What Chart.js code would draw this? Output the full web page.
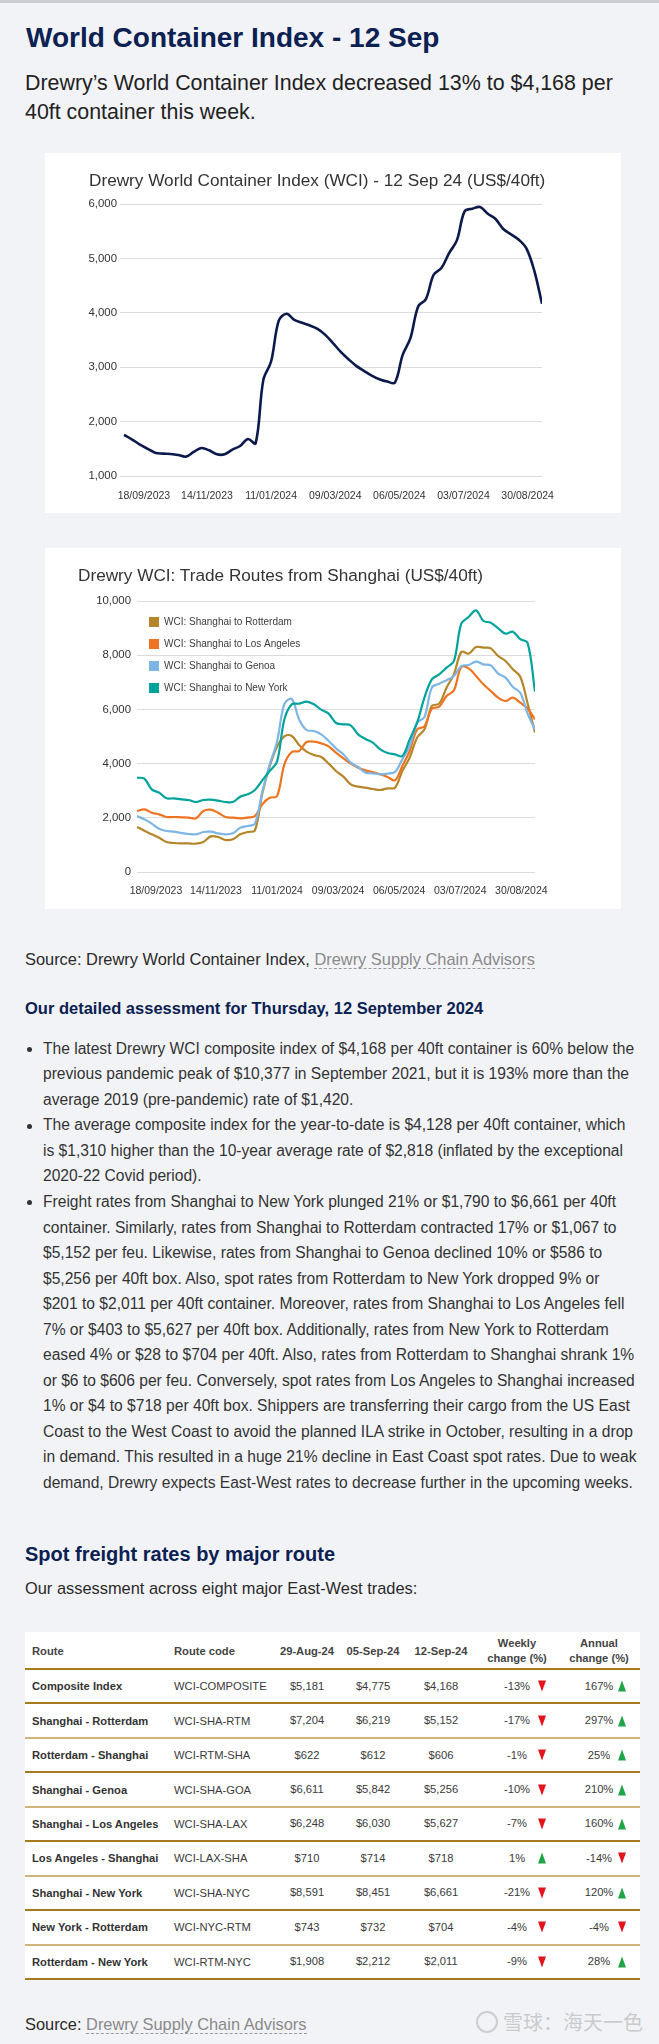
<!DOCTYPE html>
<html>
<head>
<meta charset="utf-8">
<title>World Container Index - 12 Sep</title>
<script src="https://cdn.jsdelivr.net/npm/chart.js@4.4.1/dist/chart.umd.min.js"></script>
<style>
  html, body { margin: 0; padding: 0; }
  body { width: 659px; height: 2044px; position: relative; overflow: hidden; background: #f2f3f7;
         font-family: "Liberation Sans", Arial, sans-serif; color: #333; }
  .t { position: absolute; white-space: nowrap; margin: 0; }
  #topbar { position: absolute; left: 0; top: 0; width: 659px; height: 3px; background: #cdced3; }
  #title { left: 26px; top: 21px; font-size: 28px; line-height: 34px; font-weight: bold; color: #0b2152; }
  #lead { left: 25px; top: 68.8px; font-size: 21.4px; line-height: 28.7px; color: #222; }
  .box { position: absolute; left: 45px; width: 576px; background: #fff; }
  #box1 { top: 153px; height: 360px; }
  #box2 { top: 548px; height: 361px; }
  .box canvas { position: absolute; left: 0; top: 0; }
  .ctitle { position: absolute; top: 17px; font-size: 17.2px; line-height: 20px; color: #333; white-space: nowrap; }
  .src { font-size: 16.4px; line-height: 20px; color: #2a2a2a; }
  .src a { color: #8a8a8a; text-decoration: none; border-bottom: 1px dashed #9a9a9a; }
  #src1 { left: 25px; top: 948.6px; }
  #assess { left: 25px; top: 997.6px; font-size: 16.5px; line-height: 20px; font-weight: bold; color: #0b2152; }
  #bullets { position: absolute; left: 43px; top: 1035.8px; margin: 0; padding: 0; list-style: none;
             font-size: 15.6px; line-height: 25.53px; color: #333; white-space: nowrap; }
  #bullets li { position: relative; }
  #bullets li::before { content: ""; position: absolute; left: -16.5px; top: 11.4px; width: 5px; height: 5px;
                        border-radius: 50%; background: #333; }
  #spot { left: 25px; top: 1541.8px; font-size: 20px; line-height: 24px; font-weight: bold; color: #0b2152; }
  #across { left: 25px; top: 1578.3px; }
  #rates { position: absolute; left: 25px; top: 1632px; width: 615px; background: #fff; font-size: 11.2px; color: #3a3a3a; }
  .row { display: grid; grid-template-columns: 142px 107px 66px 66px 70px 82px 82px; height: 34.44px;
         box-sizing: border-box; border-bottom: 2px solid #a87a1e; }
  .row.light { border-bottom-color: #d1b47c; }
  .row.head { height: 38px; font-weight: bold; color: #444; padding-top: 2px; }
  .c { display: flex; align-items: center; position: relative; white-space: nowrap; }
  .c.l { padding-left: 7px; }
  .c.m { justify-content: center; text-align: center; line-height: 15px; }
  .c.name { font-weight: bold; color: #333; }
  .dn, .up { position: absolute; top: 50%; transform: translateY(-50%); width: 0; height: 0;
             border-left: 4.6px solid transparent; border-right: 4.6px solid transparent; }
  .dn { border-top: 11px solid #e3141c; }
  .up { border-bottom: 11px solid #1fa447; }
  #src2 { left: 25px; top: 2013.6px; }
  #mark { left: 503px; top: 2008px; font-family: "Noto Sans CJK SC", sans-serif; font-size: 20px; line-height: 28px;
          color: rgba(150, 150, 150, 0.45); }
  #ring { position: absolute; left: 476px; top: 2011px; width: 18px; height: 18px; border-radius: 50%;
          border: 2.5px solid rgba(150, 150, 150, 0.4); }
</style>
</head>
<body>
<div id="topbar"></div>
<h1 class="t" id="title">World Container Index - 12 Sep</h1>
<p class="t" id="lead">Drewry’s World Container Index decreased 13% to $4,168 per<br>40ft container this week.</p>

<div class="box" id="box1">
  <canvas id="wci" width="576" height="360"></canvas>
  <div class="ctitle" style="left:44px">Drewry World Container Index (WCI) - 12 Sep 24 (US$/40ft)</div>
</div>

<div class="box" id="box2">
  <canvas id="routes" width="576" height="361"></canvas>
  <div class="ctitle" style="left:33px">Drewry WCI: Trade Routes from Shanghai (US$/40ft)</div>
</div>

<p class="t src" id="src1">Source: Drewry World Container Index, <a>Drewry Supply Chain Advisors</a></p>
<p class="t" id="assess">Our detailed assessment for Thursday, 12 September 2024</p>
<ul id="bullets">
  <li>The latest Drewry WCI composite index of $4,168 per 40ft container is 60% below the<br>previous pandemic peak of $10,377 in September 2021, but it is 193% more than the<br>average 2019 (pre-pandemic) rate of $1,420.</li>
  <li>The average composite index for the year-to-date is $4,128 per 40ft container, which<br>is $1,310 higher than the 10-year average rate of $2,818 (inflated by the exceptional<br>2020-22 Covid period).</li>
  <li>Freight rates from Shanghai to New York plunged 21% or $1,790 to $6,661 per 40ft<br>container. Similarly, rates from Shanghai to Rotterdam contracted 17% or $1,067 to<br>$5,152 per feu. Likewise, rates from Shanghai to Genoa declined 10% or $586 to<br>$5,256 per 40ft box. Also, spot rates from Rotterdam to New York dropped 9% or<br>$201 to $2,011 per 40ft container. Moreover, rates from Shanghai to Los Angeles fell<br>7% or $403 to $5,627 per 40ft box. Additionally, rates from New York to Rotterdam<br>eased 4% or $28 to $704 per 40ft. Also, rates from Rotterdam to Shanghai shrank 1%<br>or $6 to $606 per feu. Conversely, spot rates from Los Angeles to Shanghai increased<br>1% or $4 to $718 per 40ft box. Shippers are transferring their cargo from the US East<br>Coast to the West Coast to avoid the planned ILA strike in October, resulting in a drop<br>in demand. This resulted in a huge 21% decline in East Coast spot rates. Due to weak<br>demand, Drewry expects East-West rates to decrease further in the upcoming weeks.</li>
</ul>

<h2 class="t" id="spot">Spot freight rates by major route</h2>
<p class="t src" id="across">Our assessment across eight major East-West trades:</p>
<div id="rates"></div>

<p class="t src" id="src2">Source: <a>Drewry Supply Chain Advisors</a></p>
<div id="ring"></div>
<div class="t" id="mark">雪球：海天一色</div>

<script>
// weekly WCI readings, first point Thursday 31/08/2023, last 12/09/2024
const startDate = "31/08/2023";
const tickDates = ["18/09/2023", "14/11/2023", "11/01/2024", "09/03/2024", "06/05/2024", "03/07/2024", "30/08/2024"];

const wciComposite = [1755, 1675, 1583, 1503, 1429, 1411, 1405, 1387, 1356, 1442,
  1515, 1472, 1399, 1399, 1485, 1552, 1681, 1601, 2767, 3104,
  3859, 3982, 3871, 3816, 3767, 3706, 3595, 3442, 3282, 3147,
  3025, 2933, 2847, 2779, 2736, 2718, 3227, 3534, 4117, 4252,
  4699, 4822, 5098, 5331, 5865, 5914, 5945, 5822, 5724, 5540,
  5442, 5344, 5181, 4775, 4168];

const shaRotterdam = [1660, 1525, 1390, 1267, 1107, 1070, 1058, 1058, 1045, 1107,
  1316, 1291, 1181, 1205, 1390, 1476, 1538, 2900, 3900, 4625,
  5006, 5020, 4686, 4440, 4317, 4244, 3998, 3727, 3518, 3235,
  3149, 3112, 3063, 3026, 3087, 3112, 3727, 4219, 4957, 5264,
  6125, 6211, 6802, 7294, 8118, 8057, 8303, 8278, 8253, 7970,
  7786, 7478, 7204, 6219, 5152];

const shaLosAngeles = [2251, 2312, 2189, 2128, 2030, 2030, 2017, 2005, 1980, 2251,
  2300, 2189, 2030, 2005, 1980, 2005, 2066, 2497, 2740, 2800,
  3973, 4428, 4465, 4797, 4809, 4748, 4637, 4403, 4194, 3998,
  3850, 3752, 3690, 3604, 3505, 3383, 3911, 4465, 5264, 5375,
  6027, 6101, 6494, 6703, 7565, 7515, 7232, 6925, 6679, 6433,
  6310, 6433, 6248, 6030, 5627];

const shaGenoa = [2066, 1943, 1784, 1599, 1513, 1488, 1439, 1402, 1390, 1476,
  1488, 1427, 1390, 1427, 1636, 1697, 1784, 2960, 3960, 4810,
  6200, 6380, 5630, 5240, 5203, 5080, 4834, 4563, 4342, 4034,
  3875, 3665, 3641, 3604, 3628, 3690, 4157, 4649, 5510, 5720,
  6802, 6950, 7073, 7232, 7601, 7638, 7761, 7663, 7626, 7319,
  7171, 6827, 6611, 5842, 5256];

const shaNewYork = [3481, 3444, 3050, 2927, 2718, 2718, 2681, 2657, 2583, 2657,
  2669, 2632, 2583, 2583, 2780, 2866, 3026, 3383, 3727, 4071,
  5633, 6187, 6211, 6285, 6187, 5990, 5843, 5498, 5449, 5412,
  5080, 4908, 4772, 4526, 4391, 4342, 4280, 4895, 5510, 6433,
  7109, 7294, 7540, 7786, 9163, 9410, 9655, 9262, 9200, 8991,
  8795, 8868, 8591, 8451, 6661];

const routeNames = ["WCI: Shanghai to Rotterdam", "WCI: Shanghai to Los Angeles", "WCI: Shanghai to Genoa", "WCI: Shanghai to New York"];
const routeColors = ["#b5852a", "#ef7422", "#7db6e5", "#00a39c"];

// table
const tableHead = ["Route", "Route code", "29-Aug-24", "05-Sep-24", "12-Sep-24", "Weekly<br>change (%)", "Annual<br>change (%)"];
const routes = ["Composite Index", "Shanghai - Rotterdam", "Rotterdam - Shanghai", "Shanghai - Genoa", "Shanghai - Los Angeles",
  "Los Angeles - Shanghai", "Shanghai - New York", "New York - Rotterdam", "Rotterdam - New York"];
const codes = ["WCI-COMPOSITE", "WCI-SHA-RTM", "WCI-RTM-SHA", "WCI-SHA-GOA", "WCI-SHA-LAX", "WCI-LAX-SHA", "WCI-SHA-NYC", "WCI-NYC-RTM", "WCI-RTM-NYC"];
const rateAug29 = [5181, 7204, 622, 6611, 6248, 710, 8591, 743, 1908];
const rateSep05 = [4775, 6219, 612, 5842, 6030, 714, 8451, 732, 2212];
const rateSep12 = [4168, 5152, 606, 5256, 5627, 718, 6661, 704, 2011];
const weeklyChange = [-13, -17, -1, -10, -7, 1, -21, -4, -9];
const annualChange = [167, 297, 25, 210, 160, -14, 120, -4, 28];

const usd = v => "$" + v.toLocaleString("en-US");
const arrow = (v, right) => `<span class="${v < 0 ? "dn" : "up"}" style="right:${right}px"></span>`;

let html = `<div class="row head">` + tableHead.map((h, i) =>
  `<div class="c ${i < 2 ? "l" : "m"}">${h}</div>`).join("") + `</div>`;
html += routes.map((r, i) => `
  <div class="row${i % 2 ? " light" : ""}">
    <div class="c l name">${r}</div>
    <div class="c l">${codes[i]}</div>
    <div class="c m">${usd(rateAug29[i])}</div>
    <div class="c m">${usd(rateSep05[i])}</div>
    <div class="c m">${usd(rateSep12[i])}</div>
    <div class="c m">${weeklyChange[i]}%${arrow(weeklyChange[i], 12.5)}</div>
    <div class="c m">${annualChange[i]}%${arrow(annualChange[i], 14.5)}</div>
  </div>`).join("");
document.getElementById("rates").innerHTML = html;

// charts
Chart.defaults.font.family = "'Liberation Sans', Arial, sans-serif";
Chart.defaults.color = "#333";
Chart.defaults.animation = false;

const dayNo = s => { const [d, m, y] = s.split("/").map(Number); return Date.UTC(y, m - 1, d) / 864e5; };
const tickWeeks = tickDates.map(s => (dayNo(s) - dayNo(startDate)) / 7);
const pts = arr => arr.map((v, i) => ({ x: i, y: v }));

function xAxis(min, pad) {
  return {
    type: "linear", min, max: wciComposite.length - 1,
    grid: { display: false }, border: { display: false },
    afterBuildTicks: s => { s.ticks = tickWeeks.map(v => ({ value: v })); },
    afterFit: s => { s.height = 37; },
    ticks: { autoSkip: false, maxRotation: 0, padding: pad, font: { size: 10.5 }, color: "#333",
             callback: (v, i) => tickDates[i] },
  };
}

function yAxis(min, max, step, width, pad) {
  return {
    min, max,
    grid: { color: "#dcdcdc", drawTicks: false }, border: { display: false },
    afterFit: s => { s.width = width; },
    ticks: { stepSize: step, padding: pad, font: { size: 11.4 }, color: "#333" },
  };
}

new Chart(document.getElementById("wci"), {
  type: "line",
  data: {
    datasets: [{ label: "WCI", data: pts(wciComposite), borderColor: "#0c1a4b", borderWidth: 2.6,
                 pointRadius: 0, tension: 0.35 }],
  },
  options: {
    responsive: false, events: [],
    layout: { padding: { top: 51, right: 79, bottom: 0, left: 0 } },
    plugins: { legend: { display: false }, tooltip: { enabled: false } },
    scales: { x: xAxis(-0.52, 6), y: yAxis(1000, 6000, 1000, 75, 3) },
  },
});

const routeSeries = [shaRotterdam, shaLosAngeles, shaGenoa, shaNewYork];
new Chart(document.getElementById("routes"), {
  type: "line",
  data: {
    datasets: routeSeries.map((s, i) => ({
      label: routeNames[i], data: pts(s), borderColor: routeColors[i], backgroundColor: routeColors[i],
      borderWidth: 2.2, pointRadius: 0, tension: 0.35, order: routeSeries.length - 1 - i,
    })),
  },
  options: {
    responsive: false, events: [],
    layout: { padding: { top: 53, right: 86, bottom: 0, left: 0 } },
    plugins: {
      tooltip: { enabled: false },
      legend: {
        position: "chartArea", align: "start",
        // vertical legend starts at canvas top, so an empty title pushes it into the plot
        title: { display: true, text: "", font: { size: 10 }, padding: { top: 45, bottom: 0 } },
        labels: {
          boxWidth: 10, boxHeight: 10, padding: 12, font: { size: 10 }, color: "#3c3c3c",
          sort: (a, b) => a.datasetIndex - b.datasetIndex,
          generateLabels: chart => Chart.defaults.plugins.legend.labels.generateLabels(chart)
            .map(l => ({ ...l, lineWidth: 0 })),
        },
      },
    },
    scales: { x: xAxis(0, 5), y: yAxis(0, 10000, 2000, 92, 6) },
  },
});
</script>
</body>
</html>
